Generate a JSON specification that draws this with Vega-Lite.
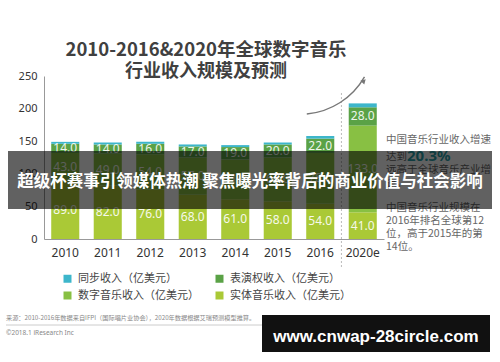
{
  "$schema": "https://vega.github.io/schema/vega-lite/v6.json",
  "width": 340,
  "height": 163,
  "autosize": {"type": "none"},
  "padding": {"left": 44, "top": 76, "right": 116, "bottom": 123},
  "background": "white",
  "config": {
    "font": "Noto Sans CJK SC",
    "view": {"stroke": null},
    "axis": {"labelOverlap": false, "grid": false, "ticks": false, "domainColor": "#999", "labelColor": "#333", "labelFont": "Noto Sans", "title": null},
    "axisX": {"labelAngle": 0, "labelFontSize": 12, "labelPadding": 8},
    "axisY": {"labelFontSize": 11, "labelPadding": 7}
  },
  "data": {
    "values": [
      {"year": "2010", "type": "实体音乐收入（亿美元）", "layer": 1, "value": 89},
      {"year": "2010", "type": "数字音乐收入（亿美元）", "layer": 2, "value": 43},
      {"year": "2010", "type": "表演权收入（亿美元）", "layer": 3, "value": 14},
      {"year": "2010", "type": "同步收入（亿美元）", "layer": 4, "value": 3},
      {"year": "2011", "type": "实体音乐收入（亿美元）", "layer": 1, "value": 82},
      {"year": "2011", "type": "数字音乐收入（亿美元）", "layer": 2, "value": 49},
      {"year": "2011", "type": "表演权收入（亿美元）", "layer": 3, "value": 14},
      {"year": "2011", "type": "同步收入（亿美元）", "layer": 4, "value": 3},
      {"year": "2012", "type": "实体音乐收入（亿美元）", "layer": 1, "value": 76},
      {"year": "2012", "type": "数字音乐收入（亿美元）", "layer": 2, "value": 54},
      {"year": "2012", "type": "表演权收入（亿美元）", "layer": 3, "value": 16},
      {"year": "2012", "type": "同步收入（亿美元）", "layer": 4, "value": 3},
      {"year": "2013", "type": "实体音乐收入（亿美元）", "layer": 1, "value": 68},
      {"year": "2013", "type": "数字音乐收入（亿美元）", "layer": 2, "value": 57},
      {"year": "2013", "type": "表演权收入（亿美元）", "layer": 3, "value": 17},
      {"year": "2013", "type": "同步收入（亿美元）", "layer": 4, "value": 3},
      {"year": "2014", "type": "实体音乐收入（亿美元）", "layer": 1, "value": 61},
      {"year": "2014", "type": "数字音乐收入（亿美元）", "layer": 2, "value": 61},
      {"year": "2014", "type": "表演权收入（亿美元）", "layer": 3, "value": 19},
      {"year": "2014", "type": "同步收入（亿美元）", "layer": 4, "value": 3},
      {"year": "2015", "type": "实体音乐收入（亿美元）", "layer": 1, "value": 58},
      {"year": "2015", "type": "数字音乐收入（亿美元）", "layer": 2, "value": 67},
      {"year": "2015", "type": "表演权收入（亿美元）", "layer": 3, "value": 20},
      {"year": "2015", "type": "同步收入（亿美元）", "layer": 4, "value": 3},
      {"year": "2016", "type": "实体音乐收入（亿美元）", "layer": 1, "value": 54},
      {"year": "2016", "type": "数字音乐收入（亿美元）", "layer": 2, "value": 78},
      {"year": "2016", "type": "表演权收入（亿美元）", "layer": 3, "value": 22},
      {"year": "2016", "type": "同步收入（亿美元）", "layer": 4, "value": 4},
      {"year": "2020e", "type": "实体音乐收入（亿美元）", "layer": 1, "value": 41},
      {"year": "2020e", "type": "数字音乐收入（亿美元）", "layer": 2, "value": 133},
      {"year": "2020e", "type": "表演权收入（亿美元）", "layer": 3, "value": 28},
      {"year": "2020e", "type": "同步收入（亿美元）", "layer": 4, "value": 6}
    ]
  },
  "layer": [
    {
      "mark": {"type": "bar"},
      "encoding": {
        "x": {
          "field": "year", "type": "ordinal",
          "scale": {"paddingInner": 0.34, "paddingOuter": 0.17}
        },
        "y": {
          "field": "value", "type": "quantitative", "stack": "zero",
          "scale": {"domain": [0, 250], "nice": false},
          "axis": {"values": [0, 50, 100, 150, 200, 250]}
        },
        "color": {
          "field": "type", "type": "nominal",
          "scale": {
            "domain": ["同步收入（亿美元）", "表演权收入（亿美元）", "数字音乐收入（亿美元）", "实体音乐收入（亿美元）"],
            "range": ["#3db6cb", "#5aa246", "#88c043", "#aac936"]
          },
          "legend": {"title": null, "orient": "none", "direction": "horizontal", "legendX": 18, "legendY": 197, "columns": 2, "columnPadding": 15, "rowPadding": 5, "symbolType": "square", "symbolSize": 64, "symbolStrokeWidth": 0, "labelFontSize": 11, "labelColor": "#444", "labelOffset": 5}
        },
        "order": {"field": "layer", "type": "quantitative"}
      }
    },
    {
      "transform": [{"filter": "datum.layer < 4"}],
      "mark": {"type": "text", "color": "white", "fontSize": 12, "baseline": "middle", "font": "Noto Sans", "opacity": 0.9},
      "encoding": {
        "x": {"field": "year", "type": "ordinal"},
        "y": {"field": "value", "type": "quantitative", "stack": "zero", "bandPosition": 0.5, "axis": {"values": [0, 50, 100, 150, 200, 250]}},
        "detail": {"field": "type"},
        "order": {"field": "layer", "type": "quantitative"},
        "text": {"field": "value", "type": "quantitative", "format": ".1f"}
      }
    },
    {
      "data": {"values": [{}]},
      "mark": {"type": "rule", "strokeDash": [2, 2], "color": "#bbb", "strokeWidth": 1},
      "encoding": {
        "x": {"datum": "2020e", "type": "ordinal", "bandPosition": -0.26},
        "y": {"value": 17},
        "y2": {"value": 192}
      }
    },
    {
      "data": {"values": [{}]},
      "mark": {"type": "arc", "radius": 75, "radius2": 73.6, "theta": 2.09, "theta2": 3.05, "fill": "#777"},
      "encoding": {"x": {"value": 256}, "y": {"value": -36}}
    },
    {
      "data": {"values": [{}]},
      "mark": {"type": "point", "shape": "triangle-up", "filled": true, "color": "#777", "size": 30, "angle": 45, "opacity": 1},
      "encoding": {"x": {"value": 320}, "y": {"value": 5}}
    },
    {
      "data": {"values": [{}]},
      "mark": {"type": "text", "text": "2010-2016&2020年全球数字音乐", "fontSize": 18.5, "fontWeight": "bold", "color": "#404040", "align": "center", "baseline": "middle"},
      "encoding": {"x": {"value": 162}, "y": {"value": -26}}
    },
    {
      "data": {"values": [{}]},
      "mark": {"type": "text", "text": "行业收入规模及预测", "fontSize": 18, "fontWeight": "bold", "color": "#404040", "align": "center", "baseline": "middle"},
      "encoding": {"x": {"value": 162}, "y": {"value": -4}}
    },
    {
      "data": {"values": [{}]},
      "mark": {"type": "text", "text": "中国音乐行业收入增速", "fontSize": 10.5, "color": "#666", "align": "left", "baseline": "middle"},
      "encoding": {"x": {"value": 342}, "y": {"value": 64}}
    },
    {
      "data": {"values": [{}]},
      "mark": {"type": "text", "text": "达到", "fontSize": 10.5, "color": "#666", "align": "left", "baseline": "middle"},
      "encoding": {"x": {"value": 342}, "y": {"value": 81}}
    },
    {
      "data": {"values": [{}]},
      "mark": {"type": "text", "text": "20.3%", "fontSize": 15, "fontWeight": "bold", "color": "#2a9fa8", "align": "left", "baseline": "middle", "font": "Noto Sans"},
      "encoding": {"x": {"value": 363}, "y": {"value": 80}}
    },
    {
      "data": {"values": [{}]},
      "mark": {"type": "text", "text": ["远高于全球音乐产业增", "速。"], "lineHeight": 14, "fontSize": 10.5, "color": "#666", "align": "left", "baseline": "line-top"},
      "encoding": {"x": {"value": 342}, "y": {"value": 87}}
    },
    {
      "data": {"values": [{}]},
      "mark": {"type": "text", "text": ["中国音乐行业规模在", "2016年排名全球第12", "位，高于2015年的第", "14位。"], "lineHeight": 13, "fontSize": 10.5, "color": "#666", "align": "left", "baseline": "line-top"},
      "encoding": {"x": {"value": 342}, "y": {"value": 124.5}}
    },
    {
      "data": {"values": [{}]},
      "mark": {"type": "text", "text": "来源：2010-2016年数据来自IFPI（国际唱片业协会），2020年数据根据艾瑞预测模型推算。", "fontSize": 6.2, "color": "#888", "align": "left", "baseline": "middle"},
      "encoding": {"x": {"value": -38}, "y": {"value": 242}}
    },
    {
      "data": {"values": [{}]},
      "mark": {"type": "rule", "color": "#ccc", "strokeWidth": 1},
      "encoding": {"x": {"value": -38}, "x2": {"value": 436}, "y": {"value": 249}}
    },
    {
      "data": {"values": [{}]},
      "mark": {"type": "text", "text": "©2018.1 iResearch Inc", "fontSize": 6.5, "color": "#888", "align": "left", "baseline": "middle", "font": "Noto Sans"},
      "encoding": {"x": {"value": -38}, "y": {"value": 257}}
    },
    {
      "data": {"values": [{}]},
      "mark": {"type": "rect", "fill": "#000", "opacity": 0.62},
      "encoding": {"x": {"value": -36}, "x2": {"value": 448}, "y": {"value": 75}, "y2": {"value": 133}}
    },
    {
      "data": {"values": [{}]},
      "mark": {"type": "text", "text": "超级杯赛事引领媒体热潮 聚焦曝光率背后的商业价值与社会影响", "fontSize": 16.5, "fontWeight": "bold", "color": "white", "align": "center", "baseline": "middle"},
      "encoding": {"x": {"value": 206}, "y": {"value": 106}}
    },
    {
      "data": {"values": [{}]},
      "mark": {"type": "rect", "fill": "#111"},
      "encoding": {"x": {"value": 218}, "x2": {"value": 446}, "y": {"value": 239}, "y2": {"value": 276}}
    },
    {
      "data": {"values": [{}]},
      "mark": {"type": "text", "text": "www.cnwap-28circle.com", "fontSize": 17, "fontWeight": "bold", "color": "white", "align": "center", "baseline": "middle", "font": "Liberation Sans"},
      "encoding": {"x": {"value": 332}, "y": {"value": 261}}
    }
  ]
}
